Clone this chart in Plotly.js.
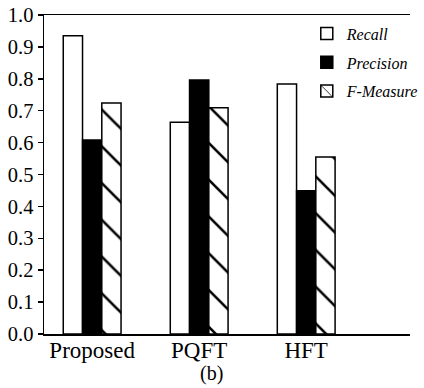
<!DOCTYPE html>
<html>
<head>
<meta charset="utf-8">
<script src="https://cdn.plot.ly/plotly-3.0.1.min.js"></script>
<style>html,body{margin:0;padding:0;background:#fff;}#chart{width:424px;height:388px;}</style>
</head>
<body>
<div id="chart"></div>
<script>
const categories = ["Proposed", "PQFT", "HFT"];
const recall = [0.935, 0.664, 0.784];
const precision = [0.608, 0.796, 0.449];
const fMeasure = [0.724, 0.709, 0.555];
const yTicks = [0, 0.1, 0.2, 0.3, 0.4, 0.5, 0.6, 0.7, 0.8, 0.9, 1.0];

const serif = "Liberation Serif";
const line = {color: "#000", width: 1.5};

const traces = [
  {type: "bar", name: "Recall", x: categories, y: recall, legendgroup: "a",
   marker: {color: "#fff", line: line}},
  {type: "bar", name: "Precision", x: categories, y: precision, legendgroup: "b",
   marker: {color: "#000", line: line}},
  {type: "bar", name: "F-Measure", x: categories, y: fMeasure, legendgroup: "c",
   marker: {color: "#fff", line: line,
            pattern: {shape: "\\", size: 26, solidity: 0.1, fgcolor: "#000", fgopacity: 1, bgcolor: "#fff", fillmode: "replace"}}}
];

const layout = {
  width: 424, height: 388,
  margin: {l: 44, r: 0, t: 15, b: 54},
  paper_bgcolor: "#fff", plot_bgcolor: "#fff",
  barmode: "group", bargap: 0.46, bargroupgap: 0,
  font: {family: serif, size: 20, color: "#000"},
  xaxis: {
    type: "category", range: [-0.45, 2.97],
    showline: true, linecolor: "#000", linewidth: 1.5, mirror: true,
    ticks: "", showgrid: false, zeroline: false, ticklabelstandoff: -5,
    tickfont: {family: serif, size: 23, color: "#000"}
  },
  yaxis: {
    range: [0, 1.0], tickvals: yTicks, tickformat: ".1f",
    showline: true, linecolor: "#000", linewidth: 1.5,
    ticks: "outside", ticklen: 5, tickwidth: 1.5, tickcolor: "#000",
    showgrid: false, zeroline: false,
    tickfont: {family: serif, size: 20.5, color: "#000"}
  },
  showlegend: true,
  legend: {
    x: 0.718, y: 0.995, xanchor: "left", yanchor: "top",
    bgcolor: "rgba(0,0,0,0)", tracegroupgap: 5,
    font: {family: serif, size: 16, color: "#000", style: "italic"}
  },
  annotations: [{
    text: "(b)", xref: "paper", yref: "paper", x: 0.458, y: -0.08,
    xanchor: "center", yanchor: "top", showarrow: false,
    font: {family: serif, size: 20, color: "#000"}
  }]
};

Plotly.newPlot("chart", traces, layout, {displayModeBar: false, staticPlot: true});
</script>
</body>
</html>
